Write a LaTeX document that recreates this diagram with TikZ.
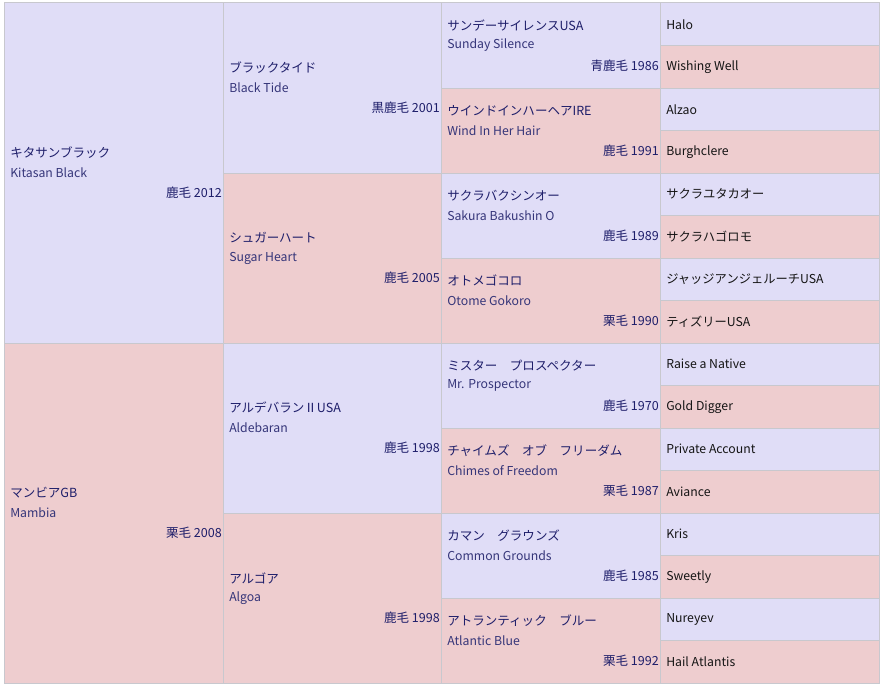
\documentclass[tikz,border=0pt]{standalone}
\usepackage{fontspec}
\setmainfont{Noto Sans CJK JP}
\usetikzlibrary{calc}

\definecolor{lav}{HTML}{E0DDF7}
\definecolor{rose}{HTML}{EECDCF}
\definecolor{gridline}{HTML}{C8C8CE}
\definecolor{navy}{HTML}{1E1E6A}
\definecolor{ink}{HTML}{141414}

% one pedigree cell: name, x, y (top), width, height, fill, japanese, english, coat
\newcommand{\horsecell}[9]{%
  \node[cell, fill=#6, minimum width=#4*0.75pt, minimum height=#5*0.75pt] (#1) at (#2,#3) {};
  \node[jp_style] (#1-jp) at ($(#1.west)+(6,-20)$) {#7};
  \node[en_style] (#1-en) at ($(#1.west)+(6,0)$) {#8};
  \node[coat_style] (#1-coat) at ($(#1.east)+(-1,20)$) {#9};
}

\begin{document}
\begin{tikzpicture}[
        x=0.75pt, y=-0.75pt,
        cell/.style={draw=gridline, line width=0.75pt, inner sep=0pt, outer sep=0pt, anchor=north west},
        jp_style/.style={anchor=west, inner sep=0pt, text=navy, font=\fontsize{9.4}{10}\selectfont},
        en_style/.style={anchor=west, inner sep=0pt, text=navy!90!white, font=\fontsize{9.2}{10}\selectfont},
        coat_style/.style={anchor=east, inner sep=0pt, text=navy, font=\fontsize{9.4}{10}\selectfont},
        g4_style/.style={anchor=west, inner sep=0pt, text=ink, font=\fontsize{9.2}{10}\selectfont}
    ]
        \useasboundingbox[fill=white] (0,0) rectangle (880,685);

        % Parents
        \horsecell{sire}{4}{3}{219}{340}{lav}{キタサンブラック}{Kitasan Black}{鹿毛 2012}
        \horsecell{dam}{4}{343}{219}{340}{rose}{マンビアGB}{Mambia}{栗毛 2008}

        % Grandparents
        \horsecell{ss}{223}{3}{218}{170}{lav}{ブラックタイド}{Black Tide}{黒鹿毛 2001}
        \horsecell{sd}{223}{173}{218}{170}{rose}{シュガーハート}{Sugar Heart}{鹿毛 2005}
        \horsecell{ds}{223}{343}{218}{170}{lav}{アルデバランⅡUSA}{Aldebaran}{鹿毛 1998}
        \horsecell{dd}{223}{513}{218}{170}{rose}{アルゴア}{Algoa}{鹿毛 1998}

        % Great-grandparents
        \horsecell{sss}{441}{3}{219}{85}{lav}{サンデーサイレンスUSA}{Sunday Silence}{青鹿毛 1986}
        \horsecell{ssd}{441}{88}{219}{85}{rose}{ウインドインハーヘアIRE}{Wind In Her Hair}{鹿毛 1991}
        \horsecell{sds}{441}{173}{219}{85}{lav}{サクラバクシンオー}{Sakura Bakushin O}{鹿毛 1989}
        \horsecell{sdd}{441}{258}{219}{85}{rose}{オトメゴコロ}{Otome Gokoro}{栗毛 1990}
        \horsecell{dss}{441}{343}{219}{85}{lav}{ミスター　プロスペクター}{Mr. Prospector}{鹿毛 1970}
        \horsecell{dsd}{441}{428}{219}{85}{rose}{チャイムズ　オブ　フリーダム}{Chimes of Freedom}{栗毛 1987}
        \horsecell{dds}{441}{513}{219}{85}{lav}{カマン　グラウンズ}{Common Grounds}{鹿毛 1985}
        \horsecell{ddd}{441}{598}{219}{85}{rose}{アトランティック　ブルー}{Atlantic Blue}{栗毛 1992}

        % Fourth generation
        \foreach \anc [count=\i from 0] in {Halo, Wishing Well, Alzao, Burghclere,
            サクラユタカオー, サクラハゴロモ, ジャッジアンジェルーチUSA, ティズリーUSA,
            Raise a Native, Gold Digger, Private Account, Aviance,
            Kris, Sweetly, Nureyev, Hail Atlantis} {
            \ifodd\i \def\shade{rose}\else\def\shade{lav}\fi
            \node[cell, fill=\shade, minimum width=219*0.75pt, minimum height=42.5*0.75pt] (g\i) at (660,{3+42.5*\i}) {};
            \node[g4_style] (g\i-name) at ($(g\i.west)+(6,0)$) {\anc};
        }
    \end{tikzpicture}
\end{document}
